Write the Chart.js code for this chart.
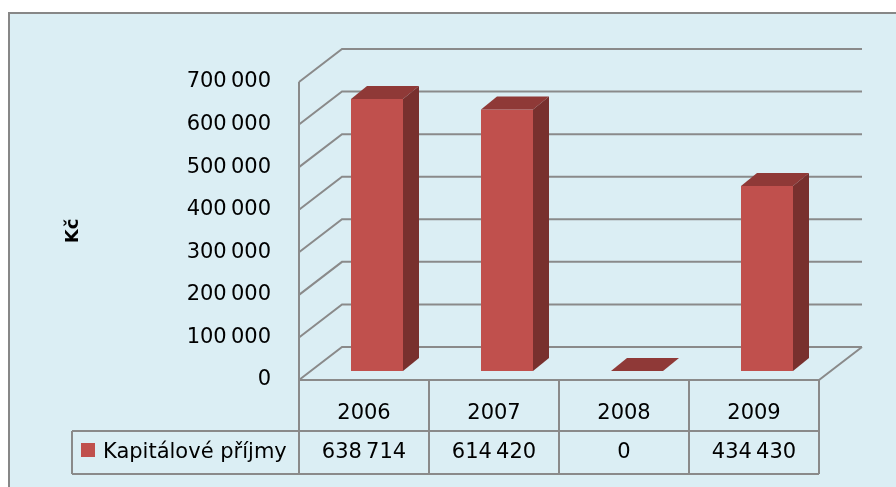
<!DOCTYPE html>
<html lang="cs">
<head>
<meta charset="UTF-8">
<title>Kapitálové příjmy</title>
<style>
  body { margin: 0; background: #fff; }
  #graf { display: block; }
</style>
</head>
<body>
<canvas id="graf" width="896" height="487"></canvas>
<script src="https://cdn.jsdelivr.net/npm/chart.js"></script>
<script>
// data z tabulky pod grafem
const roky = ['2006', '2007', '2008', '2009'];
const prijmy = [638714, 614420, 0, 434430];
const nazevRady = 'Kapitálové příjmy';
const osaMax = 700000;
const osaKrok = 100000;

const pismo = 'DejaVu Sans';
const hloubka = {dx: 43, dy: -33};   // hloubka podlahy a steny
const rovinaSloupcu = {dx: 13, dy: -9};
const hloubkaSloupce = {dx: 16, dy: -13};

function formatCislo(v) {
    return String(v).replace(/\B(?=(\d{3})+(?!\d))/g, '\u2009');
}

var scena3d = {
    id: 'scena3d',
    beforeDraw: function(chart) {
        var ctx = chart.ctx;
        ctx.save();
        ctx.fillStyle = '#ffffff';
        ctx.fillRect(0, 0, chart.width, chart.height);
        ctx.fillStyle = '#DBEEF4';
        ctx.fillRect(9, 13, chart.width, chart.height);
        ctx.strokeStyle = '#878787';
        ctx.lineWidth = 2;
        ctx.beginPath();
        ctx.moveTo(9, chart.height + 2);
        ctx.lineTo(9, 13);
        ctx.lineTo(chart.width + 2, 13);
        ctx.stroke();
        ctx.restore();
    },
    beforeDatasetsDraw: function(chart) {
        var ctx = chart.ctx;
        var a = chart.chartArea;
        var y = chart.scales.y;
        ctx.save();
        ctx.strokeStyle = '#8a8a8a';
        ctx.lineWidth = 2;
        y.ticks.forEach(function(t) {//mrizka na zadni stene + bocni stena
            var py = y.getPixelForValue(t.value);
            ctx.beginPath();
            ctx.moveTo(a.left, py);
            ctx.lineTo(a.left + hloubka.dx, py + hloubka.dy);
            ctx.lineTo(a.right + hloubka.dx, py + hloubka.dy);
            ctx.stroke();
        });
        ctx.beginPath();
        ctx.moveTo(a.left, a.top);
        ctx.lineTo(a.left, a.bottom);
        ctx.lineTo(a.right, a.bottom);
        ctx.lineTo(a.right + hloubka.dx, a.bottom + hloubka.dy);
        ctx.stroke();
        ctx.restore();

        ctx.save();
        ctx.translate(rovinaSloupcu.dx, rovinaSloupcu.dy);//sloupce stoji uprostred hloubky
    },
    afterDatasetsDraw: function(chart) {
        var ctx = chart.ctx;
        var dx = hloubkaSloupce.dx, dy = hloubkaSloupce.dy;
        chart.getDatasetMeta(0).data.forEach(function(bar) {
            var p = bar.getProps(['x', 'y', 'base', 'width'], true);
            var l = p.x - p.width / 2, r = p.x + p.width / 2;
            // horni plocha
            ctx.fillStyle = '#8F3937';
            ctx.beginPath();
            ctx.moveTo(l, p.y);
            ctx.lineTo(r, p.y);
            ctx.lineTo(r + dx, p.y + dy);
            ctx.lineTo(l + dx, p.y + dy);
            ctx.closePath();
            ctx.fill();
            // bocni plocha
            ctx.fillStyle = '#78302E';
            ctx.beginPath();
            ctx.moveTo(r, p.y);
            ctx.lineTo(r + dx, p.y + dy);
            ctx.lineTo(r + dx, p.base + dy);
            ctx.lineTo(r, p.base);
            ctx.closePath();
            ctx.fill();
        });
        ctx.restore();
    },
    afterDraw: function(chart) {//tabulka dat pod grafem
        var ctx = chart.ctx;
        var a = chart.chartArea;
        var x = chart.scales.x;
        var sirka = x.getPixelForValue(1) - x.getPixelForValue(0);
        var radek = 431, spodek = 474, legendaL = 72;
        ctx.save();
        ctx.strokeStyle = '#8a8a8a';
        ctx.lineWidth = 2;
        ctx.beginPath();
        for (var i = 0; i <= roky.length; i++) {
            var px = x.getPixelForValue(0) - sirka / 2 + i * sirka;
            ctx.moveTo(px, a.bottom);
            ctx.lineTo(px, spodek);
        }
        ctx.moveTo(legendaL, radek);
        ctx.lineTo(a.right, radek);
        ctx.moveTo(legendaL, spodek);
        ctx.lineTo(a.right, spodek);
        ctx.moveTo(legendaL, radek);
        ctx.lineTo(legendaL, spodek);
        ctx.stroke();

        ctx.fillStyle = '#000';
        ctx.font = '21px "' + pismo + '"';
        ctx.textAlign = 'center';
        ctx.textBaseline = 'middle';
        roky.forEach(function(rok, i) {
            var px = x.getPixelForValue(i);
            ctx.fillText(rok, px, 414);
            ctx.fillText(formatCislo(prijmy[i]), px, 453);
        });
        ctx.fillStyle = '#C0504D';
        ctx.fillRect(81, 443, 14, 14);
        ctx.fillStyle = '#000';
        ctx.textAlign = 'left';
        ctx.fillText(nazevRady, 103, 453);
        ctx.restore();
    }
};

var ctx = document.getElementById('graf').getContext('2d');
var graf = new Chart(ctx, {
    type: 'bar',
    data: {
        labels: roky,
        datasets: [{
            label: nazevRady,
            data: prijmy,
            backgroundColor: '#C0504D',
            borderWidth: 0,
            barPercentage: 0.4,
            categoryPercentage: 1
        }]
    },
    options: {
        responsive: false,
        animation: false,
        devicePixelRatio: 1,
        layout: {
            padding: {top: 82, right: 77, bottom: 107, left: 0}
        },
        plugins: {
            legend: {display: false},
            tooltip: {enabled: false}
        },
        scales: {
            x: {
                display: false,
                offset: true
            },
            y: {
                min: 0,
                max: osaMax,
                grid: {display: false},
                border: {display: false},
                ticks: {
                    stepSize: osaKrok,
                    padding: 20,
                    color: '#000',
                    font: {family: pismo, size: 21},
                    callback: function(v) { return formatCislo(v); }
                },
                title: {
                    display: true,
                    text: 'Kč',
                    color: '#000',
                    font: {family: pismo, size: 18, weight: 'bold'},
                    padding: {top: 63, bottom: 0}
                },
                afterFit: function(s) { s.width = 299; }
            }
        }
    },
    plugins: [scena3d]
});
</script>
</body>
</html>
